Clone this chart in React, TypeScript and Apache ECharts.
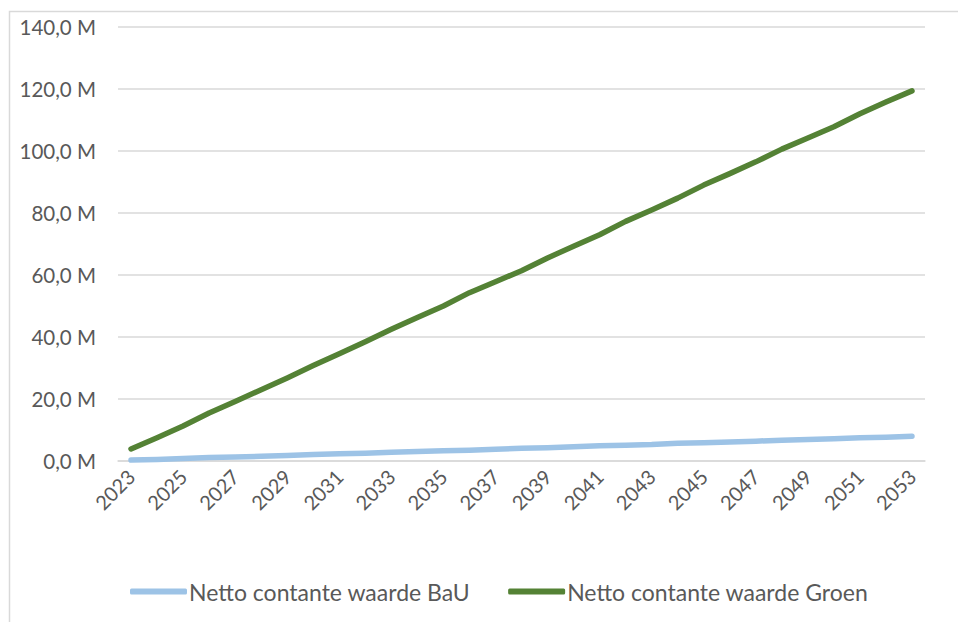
import React, { useEffect, useRef } from "react";
import * as echarts from "echarts";

const years: string[] = [
  "2023", "2024", "2025", "2026", "2027", "2028", "2029", "2030", "2031", "2032",
  "2033", "2034", "2035", "2036", "2037", "2038", "2039", "2040", "2041", "2042",
  "2043", "2044", "2045", "2046", "2047", "2048", "2049", "2050", "2051", "2052", "2053",
];

const bauValues: number[] = [
  0.3, 0.5, 0.8, 1.1, 1.3, 1.5, 1.8, 2.1, 2.3, 2.5,
  2.8, 3.1, 3.3, 3.5, 3.8, 4.1, 4.3, 4.6, 4.9, 5.1,
  5.3, 5.7, 5.9, 6.1, 6.4, 6.7, 6.9, 7.2, 7.5, 7.7, 8.0,
];

const groenValues: number[] = [
  3.9, 7.5, 11.3, 15.5, 19.2, 23.0, 26.8, 30.8, 34.6, 38.5,
  42.5, 46.3, 50.0, 54.3, 57.8, 61.4, 65.5, 69.3, 73.0, 77.3,
  81.0, 84.8, 89.0, 92.7, 96.5, 100.6, 104.2, 107.8, 112.0, 115.8, 119.4,
];

const seriesNames: string[] = ["Netto contante waarde BaU", "Netto contante waarde Groen"];

const FONT = "Lato";
const TEXT = "#595959";

export default function App() {
  const ref = useRef<HTMLDivElement>(null);
  useEffect(() => {
    if (!ref.current) return;
    const chart = echarts.init(ref.current, undefined, { renderer: "svg" });
    chart.setOption({
      animation: false,
      backgroundColor: "#ffffff",
      graphic: [
        {
          type: "rect",
          shape: { x: 9.5, y: 11.5, width: 1000, height: 700 },
          style: { fill: "none", stroke: "#d9d9d9", lineWidth: 1.5 },
          silent: true,
        },
      ],
      grid: { left: 118, right: 33, top: 27, bottom: 161, containLabel: false },
      legend: {
        bottom: 14,
        left: 125,
        itemWidth: 57,
        itemHeight: 6,
        itemGap: 38,
        icon: "roundRect",
        textStyle: { fontFamily: FONT, fontSize: 23, color: TEXT, padding: [0, 0, 0, -3] },
        data: seriesNames,
      },
      xAxis: {
        type: "category",
        data: years,
        boundaryGap: true,
        axisLine: { show: true, lineStyle: { color: "#d9d9d9", width: 1.5 } },
        axisTick: { show: false },
        axisLabel: {
          interval: 1,
          rotate: 45,
          margin: 12,
          fontFamily: FONT,
          fontSize: 20,
          color: TEXT,
        },
      },
      yAxis: {
        type: "value",
        min: 0,
        max: 140,
        interval: 20,
        axisLine: { show: false },
        axisTick: { show: false },
        splitLine: { lineStyle: { color: "#d9d9d9", width: 1.5 } },
        axisLabel: {
          margin: 22,
          fontFamily: FONT,
          fontSize: 20.5,
          color: TEXT,
          formatter: (v: number) => v.toFixed(1).replace(".", ",") + " M",
        },
      },
      series: [
        {
          name: seriesNames[0],
          type: "line",
          data: bauValues,
          showSymbol: false,
          symbol: "none",
          lineStyle: { color: "#9dc3e6", width: 5.5, cap: "round", join: "round" },
          itemStyle: { color: "#9dc3e6" },
        },
        {
          name: seriesNames[1],
          type: "line",
          data: groenValues,
          showSymbol: false,
          symbol: "none",
          lineStyle: { color: "#548235", width: 5.5, cap: "round", join: "round" },
          itemStyle: { color: "#548235" },
        },
      ],
    });
    return () => chart.dispose();
  }, []);
  return (
    <div
      ref={ref}
      style={{ position: "absolute", left: 0, top: 0, width: 958, height: 622 }}
    />
  );
}
